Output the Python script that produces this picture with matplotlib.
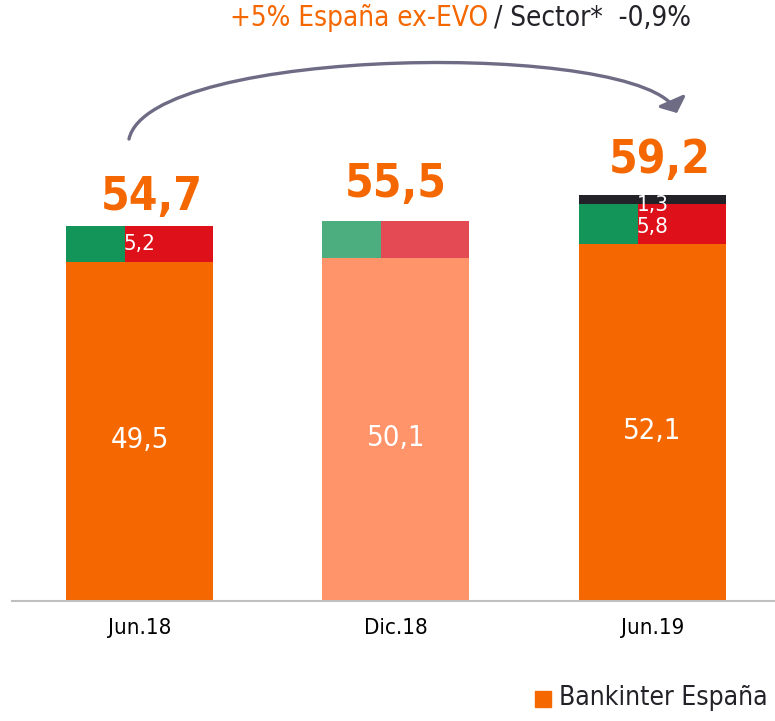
import matplotlib
matplotlib.use('Agg')
import matplotlib.pyplot as plt
from matplotlib.patches import FancyArrowPatch, Rectangle
from matplotlib.path import Path

plt.rcParams['font.family'] = ['DejaVu Sans']
plt.rcParams['font.stretch'] = 'condensed'

# datos
periodos = ['Jun.18', 'Dic.18', 'Jun.19']
base = [49.5, 50.1, 52.1]
extra = [5.2, 5.4, 5.8]
otros = [0, 0, 1.3]
totales = ['54,7', '55,5', '59,2']
base_txt = ['49,5', '50,1', '52,1']
extra_txt = ['5,2', '', '5,8']
otros_txt = ['', '', '1,3']

col_base = ['#F56700', '#FF9369', '#F56700']
col_verde = ['#13955A', '#4CAE7E', '#13955A']
col_rojo = ['#DE111B', '#E34A54', '#DE111B']
col_negro = '#222228'

W, H = 775, 721
fig = plt.figure(figsize=(W / 100, H / 100), dpi=100)
ax = fig.add_axes([0.0155, 0.1664, 0.9845, 0.8336])

x = range(len(periodos))
w = 0.573
frac_verde = 0.40

ax.bar(x, base, width=w, color=col_base, zorder=2)
# segmento partido verde / rojo
for i in x:
    left = i - w / 2
    ax.bar(left, extra[i], width=w * frac_verde, bottom=base[i], align='edge',
           color=col_verde[i], zorder=2)
    ax.bar(left + w * frac_verde, extra[i], width=w * (1 - frac_verde), bottom=base[i],
           align='edge', color=col_rojo[i], zorder=2)
ax.bar(x, otros, width=w, bottom=[b + e for b, e in zip(base, extra)], color=col_negro, zorder=2)

# desplazamientos de las etiquetas de total (puntos)
dx_tot = [9, 0, 5]
dy_tot = [11.5, 17, 16]
for i in x:
    ax.text(i, base[i] / 2 - 1.2, base_txt[i], ha='center', va='center', color='white', fontsize=21)
    if extra_txt[i]:
        ax.text(i, base[i] + extra[i] / 2 + (-0.4 if otros[i] else 0), extra_txt[i],
                ha='center', va='center', color='white', fontsize=16)
    if otros_txt[i]:
        ax.text(i, base[i] + extra[i] - 0.1, otros_txt[i], ha='center', va='center',
                color='white', fontsize=16)
    top = base[i] + extra[i] + otros[i]
    ax.annotate(totales[i], (i, top), xytext=(dx_tot[i], dy_tot[i]), textcoords='offset points',
                ha='center', va='baseline', color='#F56700', fontsize=33, fontweight='bold')

ax.set_xlim(-0.497, 2.478)
ax.set_ylim(0, 87.7)
ax.set_xticks(list(x))
ax.set_xticklabels(periodos, fontsize=16)
ax.tick_params(axis='x', length=0, pad=12)
ax.set_yticks([])
for s in ['top', 'right', 'left']:
    ax.spines[s].set_visible(False)
ax.spines['bottom'].set_color('#BFBFBF')
ax.spines['bottom'].set_linewidth(1.5)


def fpt(px, py):
    return (px / W, 1 - py / H)


# flecha curva
pts = [fpt(129, 139), fpt(150, 45), fpt(645, 40), fpt(677, 113)]
curva = Path(pts, [Path.MOVETO, Path.CURVE4, Path.CURVE4, Path.CURVE4])
arrow = FancyArrowPatch(path=curva, transform=fig.transFigure,
                        arrowstyle='-|>,head_length=5,head_width=6', color='#6E6B85',
                        lw=2.4, mutation_scale=1.5)
fig.patches.append(arrow)

# titulo
fig.text(488 / W, 1 - 18 / H, '+5% España ex-EVO', color='#F56700', fontsize=20,
         ha='right', va='center')
fig.text(494 / W, 1 - 18 / H, '/ Sector*  -0,9%', color='#222228', fontsize=20,
         ha='left', va='center')

# leyenda
fig.patches.append(Rectangle(fpt(535, 707), 16 / W, 16 / H,
                             transform=fig.transFigure, color='#F56700'))
fig.text(559 / W, 1 - 698 / H, 'Bankinter España', color='#222228', fontsize=19,
         ha='left', va='center')

fig.savefig('out.png', dpi=100)
